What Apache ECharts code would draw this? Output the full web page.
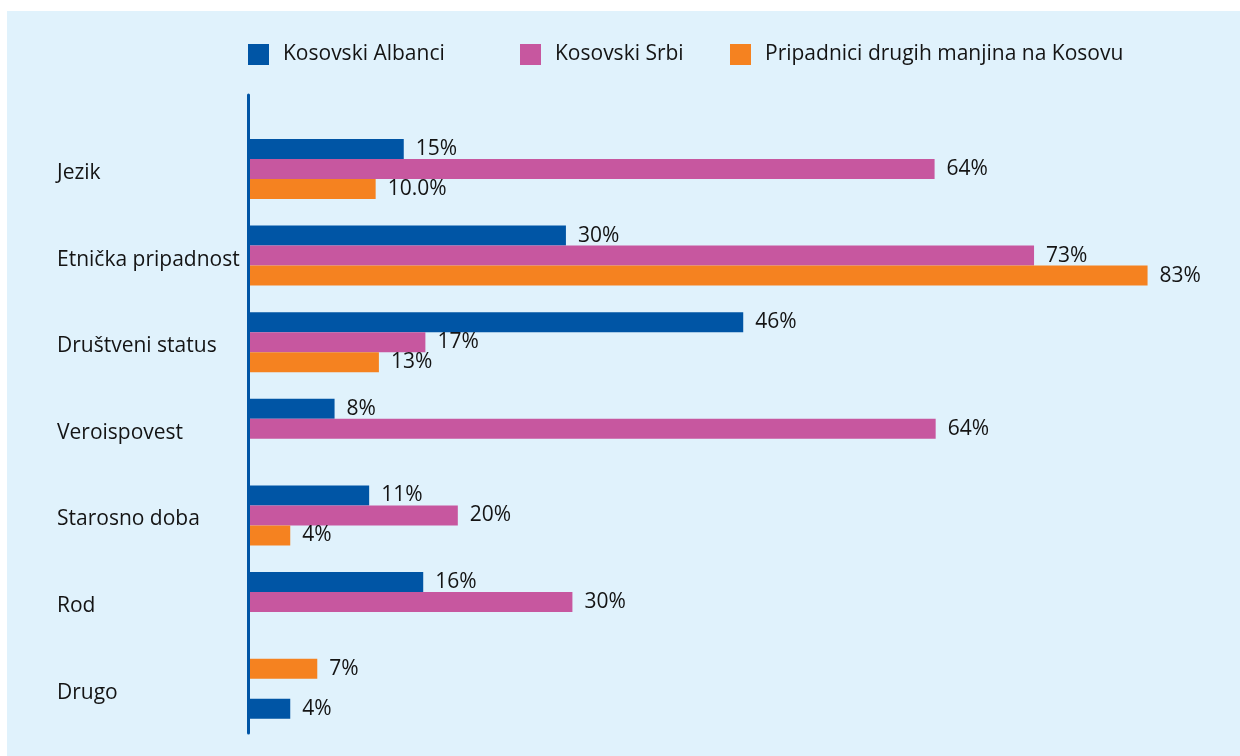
<!DOCTYPE html>
<html>
<head>
<meta charset="utf-8">
<script src="https://cdn.jsdelivr.net/npm/echarts@6/dist/echarts.min.js"></script>
<style>
  html, body { margin: 0; padding: 0; background: #fff; }
  #panel { position: absolute; left: 7px; top: 11px; width: 1233px; height: 745px; background: #e0f2fc; }
  #chart { position: absolute; left: 0; top: 0; width: 1240px; height: 756px; }
</style>
</head>
<body>
<div id="panel"></div>
<div id="chart"></div>
<script>
const categories = ["Jezik", "Etnička pripadnost", "Društveni status", "Veroispovest", "Starosno doba", "Rod", "Drugo"];

// bar lengths as drawn, and the labels printed next to them
const albanci = [14.5, 29.5, 45.9, 8.1, 11.3, 16.3, 4.0];
const albanciLabels = ["15%", "30%", "46%", "8%", "11%", "16%", "4%"];
const srbi = [63.6, 72.8, 16.5, 63.7, 19.5, 30.1, null];
const srbiLabels = ["64%", "73%", "17%", "64%", "20%", "30%", ""];
const manjine = [11.9, 83.3, 12.2, null, 4.0, null, 6.5];
const manjineLabels = ["10.0%", "83%", "13%", "", "4%", "", "7%"];

// in the original, "Drugo" has the orange bar on top and the blue one at the bottom
const swapped = ["Drugo"];

const BLUE = "#0055a5";
const PINK = "#c7579f";
const ORANGE = "#f58220";
const FONT = "Open Sans";
const INK = "#141414";

const groups = [
  { name: "Kosovski Albanci", color: BLUE, values: albanci, labels: albanciLabels },
  { name: "Kosovski Srbi", color: PINK, values: srbi, labels: srbiLabels },
  { name: "Pripadnici drugih manjina na Kosovu", color: ORANGE, values: manjine, labels: manjineLabels },
];

function slotData(slot) {
  return categories.map((cat, i) => {
    let g = groups[slot];
    if (swapped.includes(cat) && slot !== 1) g = groups[2 - slot];
    const v = g.values[i];
    if (v === null || v === undefined) return "-";
    return { value: v, text: g.labels[i], itemStyle: { color: g.color } };
  });
}

const legends = [248, 520, 730].map((left, i) => ({
  left: left,
  top: 44,
  padding: 0,
  data: [groups[i].name],
  itemWidth: 21,
  itemHeight: 21,
  icon: "rect",
  textStyle: { fontFamily: FONT, fontSize: 21, color: INK, padding: [2, 0, 0, 9] },
  selectedMode: false,
}));

const chart = echarts.init(document.getElementById("chart"));
chart.setOption({
  animation: false,
  legend: legends,
  grid: [
    { left: 247, right: 20, top: 125.7, bottom: 24 },
    { left: 248.5, right: 20, top: 95, bottom: 23 },
  ],
  xAxis: [
    { type: "value", gridIndex: 0, min: 0, max: 90, show: false },
    { type: "value", gridIndex: 1, min: 0, max: 1, show: false },
  ],
  yAxis: [
    {
      type: "category",
      gridIndex: 0,
      inverse: true,
      data: categories,
      axisLine: { show: false },
      axisTick: { show: false },
      splitLine: { show: false },
      axisLabel: {
        align: "left",
        margin: 190,
        formatter: "{c|{value}}",
        rich: { c: { fontFamily: FONT, fontSize: 21, color: INK, padding: [8, 0, 0, 0] } },
      },
    },
    {
      type: "value",
      gridIndex: 1,
      min: 0,
      max: 1,
      z: 10,
      axisLine: { show: true, lineStyle: { color: BLUE, width: 3 } },
      axisTick: { show: false },
      axisLabel: { show: false },
      splitLine: { show: false },
    },
  ],
  series: groups.map((g, s) => ({
    name: g.name,
    type: "bar",
    xAxisIndex: 0,
    yAxisIndex: 0,
    barWidth: 20,
    barGap: "0%",
    itemStyle: { color: g.color },
    label: {
      show: true,
      position: "right",
      distance: 12,
      fontFamily: FONT,
      fontSize: 21,
      color: INK,
      formatter: (p) => p.data.text,
    },
    data: slotData(s),
  })),
});
</script>
</body>
</html>
